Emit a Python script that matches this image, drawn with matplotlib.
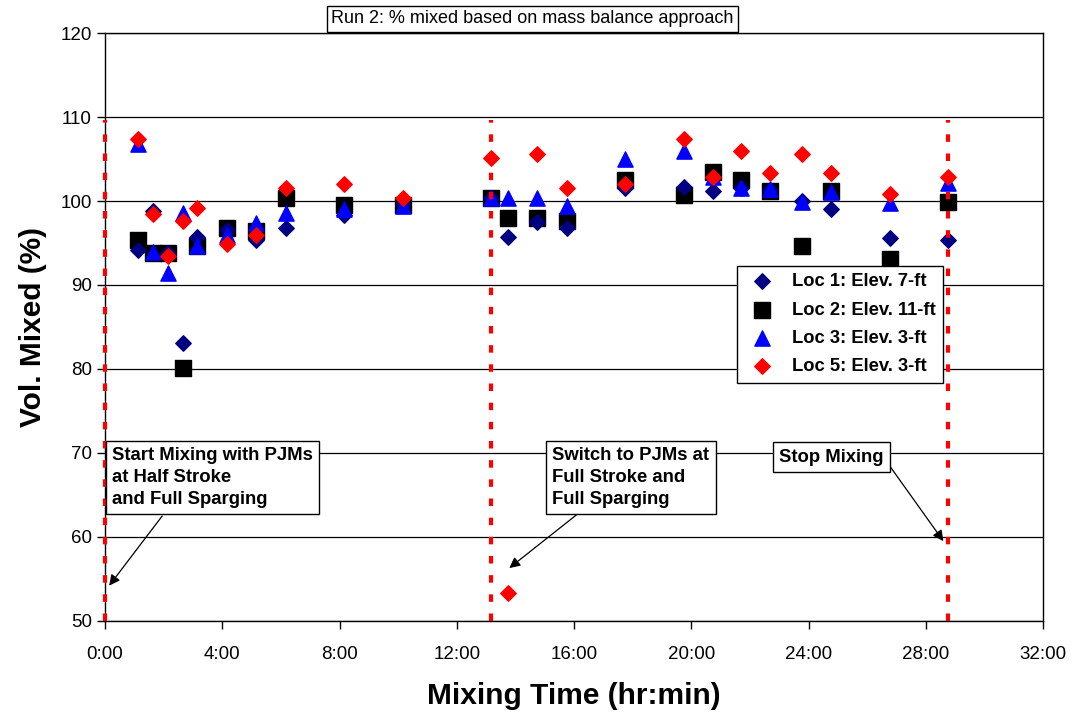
import matplotlib
matplotlib.use("Agg")
import matplotlib.pyplot as plt
from matplotlib.ticker import FuncFormatter, MultipleLocator

# Sampling times (hr:mm after start of mixing)
times = ["1:07", "1:38", "2:08", "2:39", "3:08", "4:09", "5:08", "6:10",
         "8:10", "10:10", "13:10", "13:45", "14:45", "15:45", "17:45",
         "19:45", "20:44", "21:42", "22:42", "23:46", "24:46", "26:46", "28:46"]

# Percent mixed at each sampling location
loc1 = [94.2, 98.8, 93.8, 83.1, 95.7, 96.5, 95.3, 96.8, 98.3, 99.7, 100.3,
        95.7, 97.5, 96.8, 101.6, 101.7, 101.2, 101.5, 101.3, 100.0, 99.1, 95.6, 95.3]
loc2 = [95.3, 93.8, 93.8, 80.1, 94.6, 96.8, 96.4, 100.3, 99.5, 99.5, 100.3,
        98.0, 98.0, 97.6, 102.5, 100.7, 103.4, 102.5, 101.2, 94.6, 101.2, 93.1, 99.9]
loc3 = [106.8, 93.9, 91.4, 98.6, 94.6, 95.9, 97.4, 98.6, 99.0, 99.4, 100.3,
        100.3, 100.3, 99.4, 105.0, 105.9, 102.8, 101.5, 101.4, 99.9, 101.1, 99.8, 102.2]
loc5 = [107.4, 98.4, 93.5, 97.6, 99.2, 94.9, 96.0, 101.6, 102.0, 100.3, 105.1,
        53.3, 105.6, 101.6, 102.0, 107.4, 102.9, 106.0, 103.3, 105.6, 103.3, 100.8, 102.9]

series_labels = ["Loc 1: Elev. 7-ft", "Loc 2: Elev. 11-ft",
                 "Loc 3: Elev. 3-ft", "Loc 5: Elev. 3-ft"]

# Mixing events (hr:mm) and their notes
event_times = ["0:00", "13:10", "28:46"]
event_notes = ["Start Mixing with PJMs\nat Half Stroke\nand Full Sparging",
               "Switch to PJMs at\nFull Stroke and\nFull Sparging",
               "Stop Mixing"]


def to_hours(s):
    h, m = s.split(":")
    return int(h) + int(m) / 60.0


plt.rcParams["font.family"] = ["Liberation Sans", "DejaVu Sans"]

x = [to_hours(t) for t in times]
ev = [to_hours(t) for t in event_times]

fig = plt.figure(figsize=(10.73, 7.24), dpi=100)
ax = fig.add_axes([0.0979, 0.1423, 0.8742, 0.8121])

ax.set_xlim(0, 32)
ax.set_ylim(50, 120)
ax.yaxis.set_major_locator(MultipleLocator(10))
ax.xaxis.set_major_locator(MultipleLocator(4))
ax.xaxis.set_major_formatter(FuncFormatter(lambda v, p: f"{int(v)}:00"))
ax.grid(axis="y", color="black", lw=0.9, zorder=0)
ax.set_axisbelow(True)
for sp in ax.spines.values():
    sp.set_color("black")
    sp.set_linewidth(1.0)
ax.tick_params(axis="both", direction="out", length=6, width=1, color="black")
ax.tick_params(axis="y", labelsize=13.5)
ax.tick_params(axis="x", labelsize=13.5, pad=12)

# event markers
ax.vlines(ev, 50, 109.6, colors="red", linestyles=(0, (1.8, 2.8)), lw=3,
          zorder=8, clip_on=False)

s1 = ax.scatter(x, loc1, marker="D", s=62, color="#000080", zorder=4, label=series_labels[0])
s2 = ax.scatter(x, loc2, marker="s", s=120, color="black", zorder=3, label=series_labels[1])
s3 = ax.scatter(x, loc3, marker="^", s=120, color="blue", zorder=5, label=series_labels[2])
s5 = ax.scatter(x, loc5, marker="D", s=62, color="red", zorder=6, label=series_labels[3])

leg = ax.legend(handles=[s1, s2, s3, s5], loc="upper left",
                bbox_to_anchor=(0.674, 0.604), frameon=True, fancybox=False,
                edgecolor="black", framealpha=1, borderpad=0.4,
                labelspacing=0.62, handletextpad=0.7, handlelength=1.9,
                borderaxespad=0,
                prop={"weight": "bold", "size": 13.2})
leg.get_frame().set_linewidth(1.0)
leg.set_zorder(9)

# annotation boxes with arrows
box = dict(boxstyle="square,pad=0.35", fc="white", ec="black", lw=1.0)
notes_pos = [(0.24, 70.7), (15.26, 70.7), (23.0, 70.5)]
arrow_from = [(1.95, 62.5), (16.07, 62.6), (26.8, 68.3)]
arrow_to = [(0.14, 54.2), (13.79, 56.3), (28.6, 59.5)]
for note, pos in zip(event_notes, notes_pos):
    ax.text(pos[0], pos[1], note, ha="left", va="top", fontsize=13.3,
            fontweight="bold", bbox=box, linespacing=1.38, zorder=10)
for a, b in zip(arrow_from, arrow_to):
    ax.annotate("", xy=b, xytext=a,
                arrowprops=dict(arrowstyle="-|>", color="black", lw=0.9,
                                mutation_scale=16, shrinkA=0, shrinkB=0),
                zorder=10)

ax.set_xlabel("Mixing Time (hr:min)", fontsize=21.5, fontweight="bold",
              labelpad=14)
ax.set_ylabel("Vol. Mixed (%)", fontsize=21.5, fontweight="bold", labelpad=10)

fig.text(0.496, 0.974, "Run 2: % mixed based on mass balance approach",
         ha="center", va="center", fontsize=13,
         bbox=dict(boxstyle="square,pad=0.25", fc="white", ec="black", lw=1.0))

fig.savefig("out.png", dpi=100)
